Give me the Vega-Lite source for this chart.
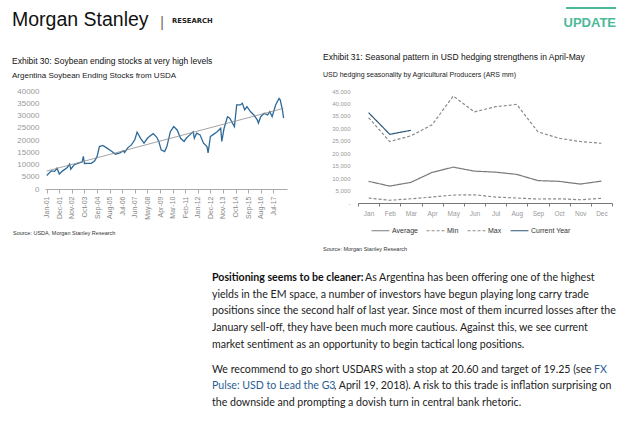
{
  "$schema": "https://vega.github.io/schema/vega-lite/v6.json",
  "background": "white",
  "padding": {"left": 10, "top": 0, "right": 2, "bottom": 0},
  "spacing": 18,
  "resolve": {"scale": {"color": "independent", "strokeDash": "independent"}},
  "config": {
    "view": {"stroke": null},
    "font": "Liberation Sans"
  },
  "vconcat": [
    {
      "width": 567,
      "height": 34,
      "data": {"values": [{"t": "x"}]},
      "layer": [
        {
          "mark": {"type": "text", "text": "Morgan Stanley", "align": "left", "baseline": "alphabetic", "fontSize": 19.5, "font": "Liberation Sans", "color": "#111111"},
          "encoding": {
            "x": {"datum": -33, "type": "quantitative", "scale": {"domain": [0, 567], "nice": false, "zero": false}, "axis": null},
            "y": {"datum": 26, "type": "quantitative", "scale": {"domain": [0, 34], "reverse": true, "nice": false}, "axis": null}
          }
        },
        {
          "mark": {"type": "text", "text": "|", "align": "center", "baseline": "alphabetic", "fontSize": 14, "color": "#666666"},
          "encoding": {
            "x": {"datum": 117, "type": "quantitative"},
            "y": {"datum": 27, "type": "quantitative"}
          }
        },
        {
          "mark": {"type": "text", "text": "RESEARCH", "align": "left", "baseline": "alphabetic", "fontSize": 6.8, "fontWeight": "bold", "font": "DejaVu Sans", "color": "#222222"},
          "encoding": {
            "x": {"datum": 127, "type": "quantitative"},
            "y": {"datum": 22.5, "type": "quantitative"}
          }
        },
        {
          "mark": {"type": "rule", "color": "#4cb99a", "strokeWidth": 2},
          "encoding": {
            "x": {"datum": 521, "type": "quantitative"},
            "x2": {"datum": 571},
            "y": {"datum": 8, "type": "quantitative"}
          }
        },
        {
          "mark": {"type": "text", "text": "UPDATE", "align": "right", "baseline": "alphabetic", "fontSize": 13, "fontWeight": "bold", "font": "Liberation Sans", "color": "#4cb99a"},
          "encoding": {
            "x": {"datum": 571, "type": "quantitative"},
            "y": {"datum": 27, "type": "quantitative"}
          }
        }
      ]
    },
    {
      "spacing": 36,
      "resolve": {"scale": {"color": "independent", "strokeDash": "independent"}},
      "hconcat": [
        {
          "title": {
            "text": "Exhibit 30:  Soybean ending stocks at very high levels",
            "subtitle": "Argentina Soybean Ending Stocks from USDA",
            "anchor": "start", "frame": "bounds",
            "fontSize": 8.5, "fontWeight": "normal", "color": "#111111",
            "subtitleFontSize": 8, "subtitleColor": "#222222", "subtitlePadding": 7,
            "offset": 7, "dx": 2
          },
          "vconcat": [
            {
              "width": 242,
              "height": 98,
              "title": {"text": "Source: USDA, Morgan Stanley Research", "orient": "bottom", "anchor": "start", "frame": "bounds", "fontSize": 5.5, "fontWeight": "normal", "color": "#333333", "offset": 12, "dx": 3},
              "data": {
                "format": {"parse": {"date": "date"}},
                "values": [
                  {"date": "2001-01-01", "value": 5500},
                  {"date": "2001-05-01", "value": 7400},
                  {"date": "2001-08-01", "value": 7200},
                  {"date": "2001-10-01", "value": 8500},
                  {"date": "2001-12-01", "value": 6100},
                  {"date": "2002-03-01", "value": 7400},
                  {"date": "2002-07-01", "value": 8800},
                  {"date": "2002-09-01", "value": 10200},
                  {"date": "2002-10-01", "value": 8100},
                  {"date": "2003-01-01", "value": 9900},
                  {"date": "2003-06-01", "value": 10800},
                  {"date": "2003-08-01", "value": 11000},
                  {"date": "2003-09-01", "value": 13300},
                  {"date": "2003-10-01", "value": 10400},
                  {"date": "2004-01-01", "value": 10500},
                  {"date": "2004-04-01", "value": 10500},
                  {"date": "2004-07-01", "value": 11500},
                  {"date": "2004-09-01", "value": 13300},
                  {"date": "2004-11-01", "value": 17300},
                  {"date": "2005-02-01", "value": 17800},
                  {"date": "2005-05-01", "value": 16900},
                  {"date": "2005-10-01", "value": 15300},
                  {"date": "2006-01-01", "value": 14200},
                  {"date": "2006-05-01", "value": 14700},
                  {"date": "2006-08-01", "value": 15600},
                  {"date": "2006-09-01", "value": 14900},
                  {"date": "2006-12-01", "value": 16900},
                  {"date": "2007-03-01", "value": 18000},
                  {"date": "2007-06-01", "value": 20100},
                  {"date": "2007-08-01", "value": 23200},
                  {"date": "2007-11-01", "value": 20700},
                  {"date": "2008-02-01", "value": 18700},
                  {"date": "2008-05-01", "value": 20700},
                  {"date": "2008-07-01", "value": 21500},
                  {"date": "2008-10-01", "value": 22600},
                  {"date": "2009-01-01", "value": 21200},
                  {"date": "2009-03-01", "value": 19400},
                  {"date": "2009-05-01", "value": 16000},
                  {"date": "2009-08-01", "value": 15300},
                  {"date": "2009-10-01", "value": 17300},
                  {"date": "2010-01-01", "value": 23400},
                  {"date": "2010-04-01", "value": 25500},
                  {"date": "2010-07-01", "value": 24100},
                  {"date": "2010-10-01", "value": 20700},
                  {"date": "2011-01-01", "value": 19400},
                  {"date": "2011-03-01", "value": 20700},
                  {"date": "2011-06-01", "value": 22100},
                  {"date": "2011-09-01", "value": 23400},
                  {"date": "2011-10-01", "value": 20700},
                  {"date": "2011-12-01", "value": 22800},
                  {"date": "2012-03-01", "value": 22100},
                  {"date": "2012-06-01", "value": 18700},
                  {"date": "2012-09-01", "value": 17300},
                  {"date": "2012-10-01", "value": 14700},
                  {"date": "2012-12-01", "value": 21400},
                  {"date": "2013-02-01", "value": 22100},
                  {"date": "2013-06-01", "value": 23400},
                  {"date": "2013-09-01", "value": 24800},
                  {"date": "2013-10-01", "value": 19400},
                  {"date": "2013-12-01", "value": 24800},
                  {"date": "2014-03-01", "value": 29500},
                  {"date": "2014-05-01", "value": 28900},
                  {"date": "2014-09-01", "value": 25500},
                  {"date": "2014-11-01", "value": 34300},
                  {"date": "2015-02-01", "value": 34300},
                  {"date": "2015-04-01", "value": 35000},
                  {"date": "2015-06-01", "value": 32300},
                  {"date": "2015-08-01", "value": 33600},
                  {"date": "2015-11-01", "value": 31600},
                  {"date": "2016-02-01", "value": 30200},
                  {"date": "2016-05-01", "value": 28200},
                  {"date": "2016-06-01", "value": 26900},
                  {"date": "2016-08-01", "value": 29500},
                  {"date": "2016-11-01", "value": 30900},
                  {"date": "2017-02-01", "value": 30200},
                  {"date": "2017-04-01", "value": 31600},
                  {"date": "2017-06-01", "value": 29500},
                  {"date": "2017-09-01", "value": 34300},
                  {"date": "2017-12-01", "value": 37000},
                  {"date": "2018-01-01", "value": 36400},
                  {"date": "2018-03-01", "value": 32300},
                  {"date": "2018-04-01", "value": 28900}
                ]
              },
              "layer": [
                {
                  "mark": {"type": "line", "color": "#2d6a9a", "strokeWidth": 1.3},
                  "encoding": {
                    "x": {
                      "field": "date", "type": "temporal",
                      "scale": {"type": "utc", "domain": [{"year": 2000, "month": 11, "date": 15, "utc": true}, {"year": 2018, "month": 7, "date": 1, "utc": true}]},
                      "axis": {
                        "title": null, "format": "%b-%y", "labelAngle": 270, "labelFontSize": 7, "labelColor": "#888888", "labelOverlap": false, "tickCount": 100,
                        "domainColor": "#aaaaaa", "tickColor": "#aaaaaa", "tickSize": 4, "grid": false, "labelPadding": 3,
                        "values": [
                          {"year": 2001, "month": 1, "date": 1, "utc": true},
                          {"year": 2001, "month": 12, "date": 1, "utc": true},
                          {"year": 2002, "month": 11, "date": 1, "utc": true},
                          {"year": 2003, "month": 10, "date": 1, "utc": true},
                          {"year": 2004, "month": 9, "date": 1, "utc": true},
                          {"year": 2005, "month": 8, "date": 1, "utc": true},
                          {"year": 2006, "month": 7, "date": 1, "utc": true},
                          {"year": 2007, "month": 6, "date": 1, "utc": true},
                          {"year": 2008, "month": 5, "date": 1, "utc": true},
                          {"year": 2009, "month": 4, "date": 1, "utc": true},
                          {"year": 2010, "month": 3, "date": 1, "utc": true},
                          {"year": 2011, "month": 2, "date": 1, "utc": true},
                          {"year": 2012, "month": 1, "date": 1, "utc": true},
                          {"year": 2012, "month": 12, "date": 1, "utc": true},
                          {"year": 2013, "month": 11, "date": 1, "utc": true},
                          {"year": 2014, "month": 10, "date": 1, "utc": true},
                          {"year": 2015, "month": 9, "date": 1, "utc": true},
                          {"year": 2016, "month": 8, "date": 1, "utc": true},
                          {"year": 2017, "month": 7, "date": 1, "utc": true}
                        ]
                      }
                    },
                    "y": {
                      "field": "value", "type": "quantitative",
                      "scale": {"domain": [0, 40000]},
                      "axis": {"title": null, "values": [0, 5000, 10000, 15000, 20000, 25000, 30000, 35000, 40000], "tickCount": 100, "format": "d", "labelOverlap": false, "labelFontSize": 8, "labelColor": "#999999", "domain": false, "ticks": false, "grid": false, "labelPadding": 6, "minExtent": 35}
                    }
                  }
                },
                {
                  "transform": [{"regression": "value", "on": "date"}],
                  "mark": {"type": "line", "color": "#8c8c8c", "strokeWidth": 0.8},
                  "encoding": {
                    "x": {"field": "date", "type": "temporal"},
                    "y": {"field": "value", "type": "quantitative"}
                  }
                }
              ]
            }
          ]
        },
        {
          "title": {
            "text": "Exhibit 31:  Seasonal pattern in USD hedging strengthens in April-May",
            "subtitle": "USD hedging seasonality by Agricultural Producers (ARS mm)",
            "anchor": "start", "frame": "bounds",
            "fontSize": 8.5, "fontWeight": "normal", "color": "#111111",
            "subtitleFontSize": 7, "subtitleColor": "#222222", "subtitlePadding": 10,
            "offset": 10
          },
          "resolve": {"scale": {"color": "independent", "strokeDash": "independent"}},
          "vconcat": [
            {
              "width": 254,
              "height": 112,
              "title": {"text": "Source: Morgan Stanley Research", "orient": "bottom", "anchor": "start", "frame": "bounds", "fontSize": 5.5, "fontWeight": "normal", "color": "#333333", "offset": 13},
              "data": {
                "values": [
                  {"month": "Jan", "series": "Average", "value": 8700},
                  {"month": "Feb", "series": "Average", "value": 6800},
                  {"month": "Mar", "series": "Average", "value": 8300},
                  {"month": "Apr", "series": "Average", "value": 12300},
                  {"month": "May", "series": "Average", "value": 14400},
                  {"month": "Jun", "series": "Average", "value": 12800},
                  {"month": "Jul", "series": "Average", "value": 12400},
                  {"month": "Aug", "series": "Average", "value": 11500},
                  {"month": "Sep", "series": "Average", "value": 9000},
                  {"month": "Oct", "series": "Average", "value": 8700},
                  {"month": "Nov", "series": "Average", "value": 7600},
                  {"month": "Dec", "series": "Average", "value": 8800},
                  {"month": "Jan", "series": "Min", "value": 2000},
                  {"month": "Feb", "series": "Min", "value": 1100},
                  {"month": "Mar", "series": "Min", "value": 1700},
                  {"month": "Apr", "series": "Min", "value": 2400},
                  {"month": "May", "series": "Min", "value": 3200},
                  {"month": "Jun", "series": "Min", "value": 3300},
                  {"month": "Jul", "series": "Min", "value": 2400},
                  {"month": "Aug", "series": "Min", "value": 2000},
                  {"month": "Sep", "series": "Min", "value": 1600},
                  {"month": "Oct", "series": "Min", "value": 1700},
                  {"month": "Nov", "series": "Min", "value": 1300},
                  {"month": "Dec", "series": "Min", "value": 1900},
                  {"month": "Jan", "series": "Max", "value": 34300},
                  {"month": "Feb", "series": "Max", "value": 24700},
                  {"month": "Mar", "series": "Max", "value": 27000},
                  {"month": "Apr", "series": "Max", "value": 31400},
                  {"month": "May", "series": "Max", "value": 43000},
                  {"month": "Jun", "series": "Max", "value": 36600},
                  {"month": "Jul", "series": "Max", "value": 38700},
                  {"month": "Aug", "series": "Max", "value": 39600},
                  {"month": "Sep", "series": "Max", "value": 28600},
                  {"month": "Oct", "series": "Max", "value": 26000},
                  {"month": "Nov", "series": "Max", "value": 24700},
                  {"month": "Dec", "series": "Max", "value": 24000},
                  {"month": "Jan", "series": "Current Year", "value": 36300},
                  {"month": "Feb", "series": "Current Year", "value": 27600},
                  {"month": "Mar", "series": "Current Year", "value": 29200}
                ]
              },
              "mark": {"type": "line", "strokeWidth": 1.2},
              "encoding": {
                "x": {
                  "field": "month", "type": "ordinal",
                  "sort": ["Jan", "Feb", "Mar", "Apr", "May", "Jun", "Jul", "Aug", "Sep", "Oct", "Nov", "Dec"],
                  "scale": {"type": "band", "paddingInner": 0, "paddingOuter": 0},
                  "axis": {"title": null, "labelAngle": 0, "labelFontSize": 6.5, "labelColor": "#999999", "domainColor": "#777777", "tickColor": "#777777", "tickSize": 3, "tickBand": "extent", "labelPadding": 4, "grid": false}
                },
                "y": {
                  "field": "value", "type": "quantitative",
                  "scale": {"domain": [0, 45000]},
                  "axis": {"title": null, "values": [0, 5000, 10000, 15000, 20000, 25000, 30000, 35000, 40000, 45000], "labelOverlap": false, "labelExpr": "datum.value === 0 ? '-\u00a0\u00a0\u00a0\u00a0' : format(datum.value, ',')", "labelFontSize": 6, "labelColor": "#999999", "domain": false, "ticks": false, "grid": false, "labelPadding": 8, "minExtent": 35}
                },
                "color": {
                  "field": "series", "type": "nominal",
                  "scale": {"domain": ["Average", "Min", "Max", "Current Year"], "range": ["#7a7a7a", "#8a8a8a", "#8a8a8a", "#2b5577"]},
                  "legend": {"title": null, "orient": "none", "legendX": 13, "legendY": 130, "direction": "horizontal", "symbolType": "stroke", "symbolSize": 320, "symbolStrokeWidth": 1.1, "labelFontSize": 7, "labelColor": "#333333", "labelOffset": 2, "columnPadding": 6}
                },
                "strokeDash": {
                  "field": "series", "type": "nominal",
                  "scale": {"domain": ["Average", "Min", "Max", "Current Year"], "range": [[1, 0], [3, 2], [3, 2], [1, 0]]}
                }
              }
            }
          ]
        }
      ]
    },
    {
      "spacing": 0,
      "hconcat": [
        {
          "width": 167,
          "height": 10,
          "data": {"values": []},
          "mark": {"type": "point", "opacity": 0}
        },
        {
          "width": 410,
          "height": 132,
          "layer": [
            {
              "data": {"values": [
                {"line": 2, "text": "yields in the EM space, a number of investors have begun playing long carry trade"},
                {"line": 3, "text": "positions since the second half of last year. Since most of them incurred losses after the"},
                {"line": 4, "text": "January sell-off, they have been much more cautious. Against this, we see current"},
                {"line": 5, "text": "market sentiment as an opportunity to begin tactical long positions."},
                {"line": 6.5, "text": "We recommend to go short USDARS with a stop at 20.60 and target of 19.25 (see"},
                {"line": 8.5, "text": "the downside and prompting a dovish turn in central bank rhetoric."}
              ]},
              "mark": {"type": "text", "align": "left", "baseline": "middle", "font": "Lato", "fontSize": 10.6, "color": "#222222"},
              "encoding": {
                "x": {"datum": 0, "type": "quantitative", "scale": {"domain": [0, 410], "nice": false}, "axis": null},
                "y": {"field": "line", "type": "quantitative", "scale": {"domain": [0.58, 8.5], "reverse": true, "zero": false, "nice": false}, "axis": null},
                "text": {"field": "text"}
              }
            },
            {
              "data": {"values": [{"line": 1, "text": "Positioning seems to be cleaner:"}]},
              "mark": {"type": "text", "align": "left", "baseline": "middle", "font": "Lato", "fontSize": 10.6, "fontWeight": "bold", "color": "#111111"},
              "encoding": {
                "x": {"datum": 0, "type": "quantitative"},
                "y": {"field": "line", "type": "quantitative"},
                "text": {"field": "text"}
              }
            },
            {
              "data": {"values": [{"line": 1, "text": "As Argentina has been offering one of the highest"}]},
              "mark": {"type": "text", "align": "left", "baseline": "middle", "font": "Lato", "fontSize": 10.6, "color": "#222222"},
              "encoding": {
                "x": {"datum": 153, "type": "quantitative"},
                "y": {"field": "line", "type": "quantitative"},
                "text": {"field": "text"}
              }
            },
            {
              "data": {"values": [{"line": 6.5, "text": "FX"}]},
              "mark": {"type": "text", "align": "left", "baseline": "middle", "font": "Lato", "fontSize": 10.6, "color": "#2c5e93"},
              "encoding": {
                "x": {"datum": 382, "type": "quantitative"},
                "y": {"field": "line", "type": "quantitative"},
                "text": {"field": "text"}
              }
            },
            {
              "data": {"values": [{"line": 7.5, "text": "Pulse: USD to Lead the G3"}]},
              "mark": {"type": "text", "align": "left", "baseline": "middle", "font": "Lato", "fontSize": 10.6, "color": "#2c5e93"},
              "encoding": {
                "x": {"datum": 0, "type": "quantitative"},
                "y": {"field": "line", "type": "quantitative"},
                "text": {"field": "text"}
              }
            },
            {
              "data": {"values": [{"line": 7.5, "text": ", April 19, 2018). A risk to this trade is inflation surprising on"}]},
              "mark": {"type": "text", "align": "left", "baseline": "middle", "font": "Lato", "fontSize": 10.6, "color": "#222222"},
              "encoding": {
                "x": {"datum": 122, "type": "quantitative"},
                "y": {"field": "line", "type": "quantitative"},
                "text": {"field": "text"}
              }
            }
          ]
        }
      ]
    }
  ]
}
